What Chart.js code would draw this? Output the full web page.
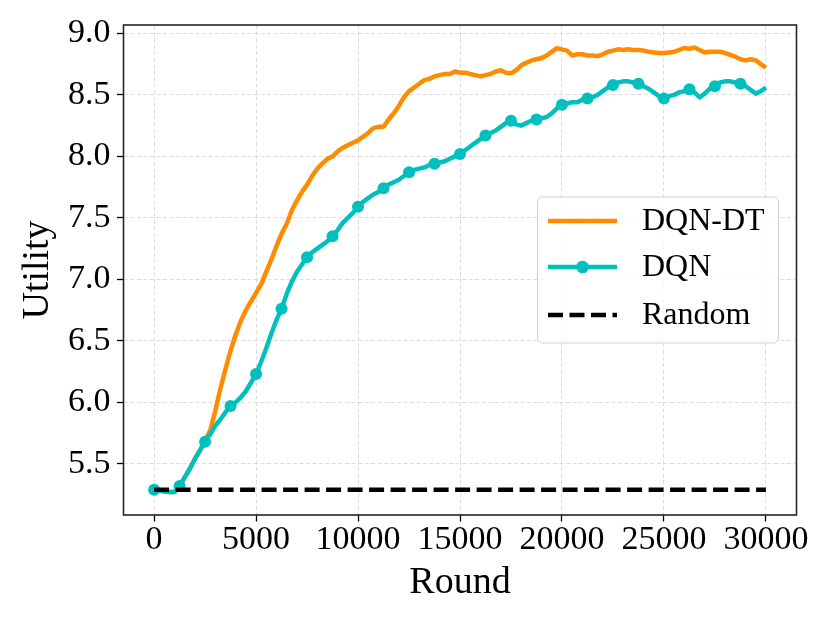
<!DOCTYPE html>
<html>
<head>
<meta charset="utf-8">
<script src="https://cdn.jsdelivr.net/npm/chart.js@4.4.1/dist/chart.umd.min.js"></script>
<style>
  html, body { margin: 0; padding: 0; background: #fff; }
  #wrap { width: 830px; height: 623px; }
</style>
</head>
<body>
<div id="wrap"><canvas id="utilityChart" width="830" height="623"></canvas></div>
<script>
// training rounds (x positions of the logged points)
const rounds = [
    0, 250, 500, 750, 1000, 1250, 1500, 1750, 2000, 2250,
    2500, 2750, 3000, 3250, 3500, 3750, 4000, 4250, 4500, 4750,
    5000, 5250, 5500, 5750, 6000, 6250, 6500, 6750, 7000, 7250,
    7500, 7750, 8000, 8250, 8500, 8750, 9000, 9250, 9500, 9750,
    10000, 10250, 10500, 10750, 11000, 11250, 11500, 11750, 12000, 12250,
    12500, 12750, 13000, 13250, 13500, 13750, 14000, 14250, 14500, 14750,
    15000, 15250, 15500, 15750, 16000, 16250, 16500, 16750, 17000, 17250,
    17500, 17750, 18000, 18250, 18500, 18750, 19000, 19250, 19500, 19750,
    20000, 20250, 20500, 20750, 21000, 21250, 21500, 21750, 22000, 22250,
    22500, 22750, 23000, 23250, 23500, 23750, 24000, 24250, 24500, 24750,
    25000, 25250, 25500, 25750, 26000, 26250, 26500, 26750, 27000, 27250,
    27500, 27750, 28000, 28250, 28500, 28750, 29000, 29250, 29500, 29750,
    30000
];

const dqnDtUtility = [
    5.29, 5.285, 5.275, 5.27, 5.27, 5.32, 5.39, 5.46, 5.54, 5.61,
    5.69, 5.77, 5.93, 6.11, 6.27, 6.42, 6.55, 6.66, 6.75, 6.82,
    6.89, 6.96, 7.06, 7.16, 7.27, 7.37, 7.45, 7.56, 7.64, 7.71,
    7.77, 7.84, 7.90, 7.94, 7.98, 8.00, 8.04, 8.07, 8.09, 8.11,
    8.13, 8.16, 8.19, 8.23, 8.24, 8.24, 8.30, 8.35, 8.41, 8.48,
    8.53, 8.56, 8.59, 8.62, 8.63, 8.65, 8.66, 8.67, 8.67, 8.69,
    8.68, 8.68, 8.67, 8.66, 8.65, 8.66, 8.67, 8.69, 8.70, 8.68,
    8.675, 8.70, 8.74, 8.76, 8.78, 8.79, 8.80, 8.82, 8.85, 8.88,
    8.87, 8.86, 8.82, 8.83, 8.83, 8.82, 8.82, 8.815, 8.83, 8.85,
    8.86, 8.87, 8.865, 8.87, 8.865, 8.865, 8.86, 8.85, 8.845, 8.84,
    8.84, 8.845, 8.85, 8.865, 8.88, 8.875, 8.885, 8.865, 8.845, 8.85,
    8.85, 8.85, 8.84, 8.825, 8.81, 8.79, 8.78, 8.79, 8.78, 8.75,
    8.72
];

const dqnUtility = [
    5.29, 5.285, 5.275, 5.27, 5.27, 5.32, 5.39, 5.46, 5.54, 5.61,
    5.68, 5.74, 5.81, 5.86, 5.92, 5.97, 6.00, 6.04, 6.09, 6.16,
    6.23, 6.33, 6.44, 6.56, 6.67, 6.76, 6.88, 6.98, 7.06, 7.12,
    7.18, 7.22, 7.25, 7.28, 7.31, 7.35, 7.40, 7.46, 7.50, 7.54,
    7.59, 7.63, 7.66, 7.69, 7.71, 7.74, 7.77, 7.79, 7.81, 7.84,
    7.87, 7.89, 7.90, 7.91, 7.93, 7.94, 7.95, 7.96, 7.98, 8.00,
    8.02, 8.05, 8.08, 8.11, 8.14, 8.17, 8.19, 8.21, 8.24, 8.27,
    8.29, 8.26, 8.25, 8.27, 8.29, 8.30, 8.31, 8.32, 8.35, 8.39,
    8.42, 8.43, 8.44, 8.44, 8.46, 8.47, 8.48, 8.50, 8.53, 8.56,
    8.58, 8.60, 8.61, 8.61, 8.60, 8.59, 8.57, 8.55, 8.52, 8.49,
    8.47, 8.49, 8.50, 8.52, 8.53, 8.545, 8.52, 8.48, 8.51, 8.55,
    8.57, 8.60, 8.61, 8.61, 8.60, 8.59, 8.57, 8.54, 8.51, 8.53,
    8.56
];

const randomRounds = [0, 30000];
const randomUtility = [5.29, 5.29];

const xTicks = [0, 5000, 10000, 15000, 20000, 25000, 30000];
const yTicks = [5.5, 6.0, 6.5, 7.0, 7.5, 8.0, 8.5, 9.0];

const SERIF = "'Liberation Serif', 'Times New Roman', serif";
const ORANGE = "#ff8c00";
const TEAL = "#00bfbf";

// zip an x array and a y array into {x, y} points
function toPoints(xs, ys) {
    return xs.map((x, i) => ({ x: x, y: ys[i] }));
}

// matplotlib-like box around the axes plus the legend inside the plot
const frameAndLegend = {
    id: "frameAndLegend",
    afterDraw(chart) {
        const ctx = chart.ctx;
        const a = chart.chartArea;
        ctx.save();
        ctx.lineWidth = 1.6;
        ctx.strokeStyle = "#262626";
        ctx.strokeRect(a.left, a.top, a.right - a.left, a.bottom - a.top);

        // legend box
        ctx.beginPath();
        ctx.roundRect(537.5, 197, 241, 146, 5);
        ctx.fillStyle = "rgba(255,255,255,0.8)";
        ctx.fill();
        ctx.lineWidth = 1;
        ctx.strokeStyle = "#d0d0d0";
        ctx.stroke();

        const rowY = [221, 267, 315];
        chart.data.datasets.forEach((ds, i) => {
            const y = rowY[i];
            ctx.beginPath();
            ctx.setLineDash(ds.borderDash || []);
            ctx.lineWidth = ds.borderWidth;
            ctx.strokeStyle = ds.borderColor;
            ctx.moveTo(548, y);
            ctx.lineTo(617, y);
            ctx.stroke();
            ctx.setLineDash([]);
            if (ds.legendMarker) {
                ctx.beginPath();
                ctx.arc(582.5, y, 6.3, 0, Math.PI * 2);
                ctx.fillStyle = ds.borderColor;
                ctx.fill();
            }
            ctx.fillStyle = "#000";
            ctx.font = "32px " + SERIF;
            ctx.textAlign = "left";
            ctx.textBaseline = "middle";
            ctx.fillText(ds.label, 642, y + 1);
        });
        ctx.restore();
    }
};

const gridOpts = {
    color: "#d4d4d4",
    lineWidth: 0.8,
    drawTicks: true,
    tickLength: 6.5,
    tickColor: "#000",
    tickWidth: 1.3,
    tickBorderDash: []
};

new Chart(document.getElementById("utilityChart"), {
    type: "line",
    data: {
        datasets: [
            {
                label: "DQN-DT",
                data: toPoints(rounds, dqnDtUtility),
                borderColor: ORANGE,
                borderWidth: 4.5,
                borderJoinStyle: "round",
                pointRadius: 0,
                tension: 0,
                order: 3
            },
            {
                label: "DQN",
                data: toPoints(rounds, dqnUtility),
                borderColor: TEAL,
                borderWidth: 4.5,
                borderJoinStyle: "round",
                pointRadius: (c) => (c.dataIndex % 5 === 0 && c.dataIndex < rounds.length - 1) ? 6 : 0,
                pointBackgroundColor: TEAL,
                pointBorderWidth: 0,
                tension: 0,
                legendMarker: true,
                order: 2
            },
            {
                label: "Random",
                data: toPoints(randomRounds, randomUtility),
                borderColor: "#000",
                borderWidth: 4.5,
                borderDash: [15, 6.5],
                pointRadius: 0,
                tension: 0,
                order: 1
            }
        ]
    },
    options: {
        responsive: false,
        devicePixelRatio: 1,
        animation: false,
        events: [],
        layout: { padding: { left: 0, right: 33.5, top: 25, bottom: 0 } },
        plugins: {
            legend: { display: false },
            tooltip: { enabled: false }
        },
        scales: {
            x: {
                type: "linear",
                min: -1500,
                max: 31500,
                afterBuildTicks: (s) => { s.ticks = xTicks.map(v => ({ value: v })); },
                afterFit: (s) => { s.height = 108; },
                grid: gridOpts,
                border: { display: false, dash: [4, 2.5] },
                ticks: {
                    color: "#000",
                    font: { family: SERIF, size: 34, lineHeight: 1 },
                    padding: 2,
                    maxRotation: 0,
                    autoSkip: false,
                    callback: (v) => String(v)
                },
                title: {
                    display: true,
                    text: "Round",
                    color: "#000",
                    font: { family: SERIF, size: 38 },
                    padding: { top: 0, bottom: 17 }
                }
            },
            y: {
                type: "linear",
                min: 5.084,
                max: 9.068,
                afterBuildTicks: (s) => { s.ticks = yTicks.map(v => ({ value: v })); },
                afterFit: (s) => { s.width = 123.5; },
                grid: gridOpts,
                border: { display: false, dash: [4, 2.5] },
                ticks: {
                    color: "#000",
                    font: { family: SERIF, size: 34, lineHeight: 1 },
                    padding: 6.5,
                    autoSkip: false,
                    callback: (v) => v.toFixed(1)
                },
                title: {
                    display: true,
                    text: "Utility",
                    color: "#000",
                    font: { family: SERIF, size: 38 },
                    padding: { top: 15, bottom: 0 }
                }
            }
        }
    },
    plugins: [frameAndLegend]
});
</script>
</body>
</html>
